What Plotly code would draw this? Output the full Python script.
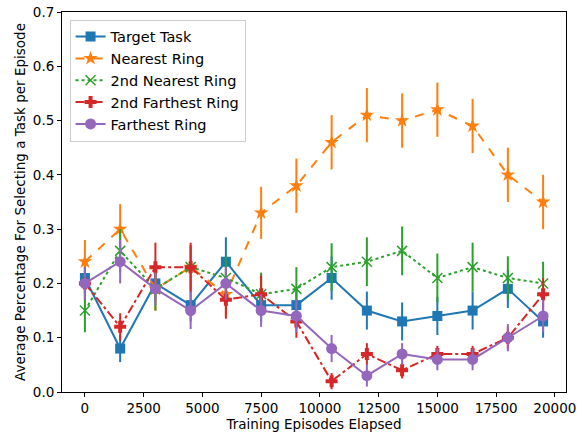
import plotly.graph_objects as go

episodes = [0, 1500, 3000, 4500, 6000, 7500, 9000, 10500, 12000, 13500, 15000, 16500, 18000, 19500]

target = [0.21, 0.08, 0.20, 0.16, 0.24, 0.16, 0.16, 0.21, 0.15, 0.13, 0.14, 0.15, 0.19, 0.13]
target_err = [0.03, 0.025, 0.03, 0.03, 0.045, 0.03, 0.03, 0.04, 0.035, 0.035, 0.035, 0.035, 0.035, 0.03]

nearest = [0.24, 0.30, 0.19, 0.23, 0.18, 0.33, 0.38, 0.46, 0.51, 0.50, 0.52, 0.49, 0.40, 0.35]
nearest_err = [0.04, 0.046, 0.04, 0.04, 0.04, 0.048, 0.05, 0.05, 0.05, 0.05, 0.05, 0.05, 0.05, 0.05]

second_nearest = [0.15, 0.26, 0.19, 0.23, 0.21, 0.18, 0.19, 0.23, 0.24, 0.26, 0.21, 0.23, 0.21, 0.20]
second_nearest_err = [0.04, 0.04, 0.04, 0.04, 0.04, 0.04, 0.04, 0.044, 0.045, 0.045, 0.045, 0.045, 0.04, 0.04]

second_farthest = [0.20, 0.12, 0.23, 0.23, 0.17, 0.18, 0.13, 0.02, 0.07, 0.04, 0.07, 0.07, 0.10, 0.18]
second_farthest_err = [0.03, 0.025, 0.045, 0.045, 0.035, 0.035, 0.03, 0.015, 0.02, 0.015, 0.015, 0.015, 0.02, 0.03]

farthest = [0.20, 0.24, 0.19, 0.15, 0.20, 0.15, 0.14, 0.08, 0.03, 0.07, 0.06, 0.06, 0.10, 0.14]
farthest_err = [0.03, 0.04, 0.03, 0.034, 0.03, 0.03, 0.03, 0.025, 0.02, 0.02, 0.02, 0.02, 0.025, 0.03]

x_ticks = [0, 2500, 5000, 7500, 10000, 12500, 15000, 17500, 20000]
x_tick_labels = ["0", "2500", "5000", "7500", "10000", "12500", "15000", "17500", "20000"]
y_ticks = [0.0, 0.1, 0.2, 0.3, 0.4, 0.5, 0.6, 0.7]
y_tick_labels = ["0.0", "0.1", "0.2", "0.3", "0.4", "0.5", "0.6", "0.7"]

series = [
    ("Target Task", target, target_err, "#1f77b4", "solid", "square", 10),
    ("Nearest Ring", nearest, nearest_err, "#ff7f0e", "dash", "star", 11),
    ("2nd Nearest Ring", second_nearest, second_nearest_err, "#2ca02c", "dot", "x-thin-open", 10),
    ("2nd Farthest Ring", second_farthest, second_farthest_err, "#d62728", "dashdot", "cross", 10),
    ("Farthest Ring", farthest, farthest_err, "#9467bd", "solid", "circle", 11),
]

fig = go.Figure()
for name, vals, errs, color, dash, sym, size in series:
    fig.add_trace(go.Scatter(
        x=episodes, y=vals, name=name, mode="lines+markers",
        line=dict(color=color, width=2, dash=dash),
        marker=dict(symbol=sym, size=size, color=color,
                    line=dict(color=color, width=1.5 if sym == "x-thin-open" else 0)),
        error_y=dict(type="data", array=errs, visible=True, color=color, thickness=2, width=0),
    ))

axis_common = dict(
    showline=True, linecolor="black", linewidth=1, mirror=True,
    ticks="outside", ticklen=4, tickcolor="black", tickwidth=1,
    showgrid=False, zeroline=False, automargin=False,
    tickfont=dict(family="DejaVu Sans", size=13.5, color="black"),
)

fig.update_layout(
    width=582, height=436,
    margin=dict(l=62, r=16, t=12, b=44),
    paper_bgcolor="white", plot_bgcolor="white",
    font=dict(family="DejaVu Sans", size=13.5, color="black"),
    xaxis=dict(range=[-975, 20475], tickmode="array", tickvals=x_ticks, ticktext=x_tick_labels,
               title=dict(text="Training Episodes Elapsed", font=dict(size=13.5), standoff=4), **axis_common),
    yaxis=dict(range=[0, 0.7], tickmode="array", tickvals=y_ticks, ticktext=y_tick_labels,
               title=dict(text="Average Percentage For Selecting a Task per Episode", font=dict(size=13.5), standoff=4),
               **axis_common),
    legend=dict(x=0.015, y=0.98, xanchor="left", yanchor="top",
                bgcolor="rgba(255,255,255,0.8)", bordercolor="#cccccc", borderwidth=1,
                font=dict(size=14.5), tracegroupgap=0),
    showlegend=True,
)

fig.write_html("out.html", config={"displayModeBar": False},
               post_script="document.body.style.margin='0';document.body.style.padding='0';")
